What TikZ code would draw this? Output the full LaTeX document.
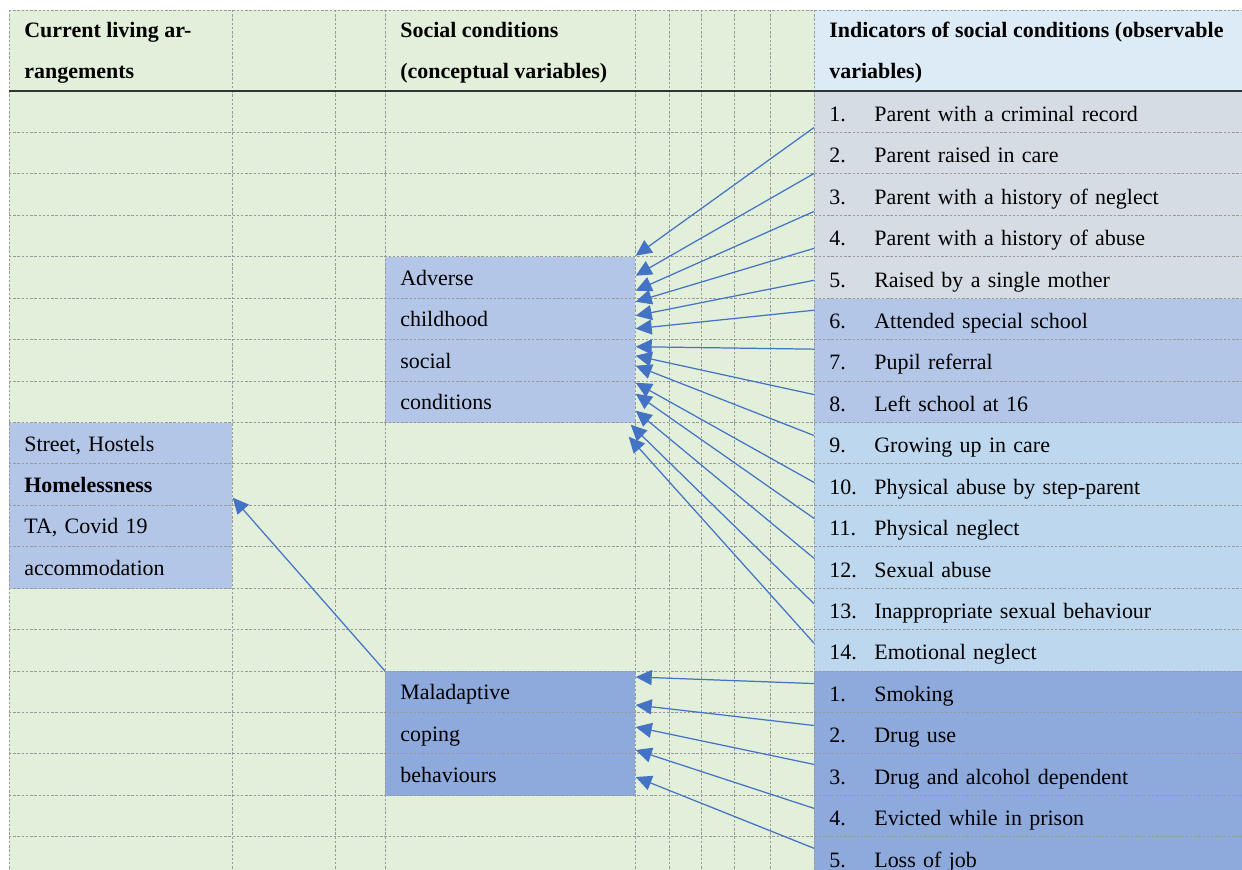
\documentclass[tikz,border=0pt]{standalone}
\usepackage{fontspec}
\setmainfont{Liberation Serif}
\usetikzlibrary{arrows.meta}
\definecolor{tabgreen}{HTML}{E2EFDA}
\definecolor{headblue}{HTML}{DDEBF7}
\definecolor{indgrey}{HTML}{D6DCE4}
\definecolor{indblue}{HTML}{B4C6E7}
\definecolor{indlight}{HTML}{BDD7EE}
\definecolor{inddark}{HTML}{8EA9DB}
\definecolor{arrowblue}{HTML}{4472C4}
\newcommand{\tabfont}{\fontsize{12.5}{23.58}\selectfont}
\tikzstyle{headcell}=[anchor=north west, minimum height=1.62cm,
    inner xsep=0.3cm, inner ysep=0pt, align=left, font=\tabfont\bfseries]
\tikzstyle{cellbox}=[anchor=north west, text width=4.4cm,
    inner xsep=0.3cm, inner ysep=0pt, align=left]
\tikzstyle{indicator}=[anchor=north west, text width=8.4cm, minimum height=0.8286cm,
    inner xsep=0.3cm, inner ysep=0pt, align=left, text height=0.47cm, text depth=0.1cm]
\tikzstyle{gridline}=[gray!80, dash pattern=on 1.4pt off 1pt, line width=0.5pt]
\tikzstyle{conn}=[draw=arrowblue, line width=0.7pt, -{Triangle[length=0.32cm,width=0.3cm]}]

\begin{document}
\begin{tikzpicture}[font=\tabfont]
  \useasboundingbox (0,0) rectangle (24.84,-17.4);
  \clip (0,0) rectangle (24.84,-17.4);
  \fill[tabgreen] (0.18,-0.2) rectangle (25,-17.6);
  \fill[headblue] (16.28,-0.2) rectangle (25,-1.82);

  % header row
  \node[headcell] (hcur) at (0.18,-0.24) {Current living ar-\\rangements};
  \node[headcell] (hsoc) at (7.70,-0.24) {Social conditions\\(conceptual variables)};
  \node[headcell] (hind) at (16.28,-0.24) {Indicators of social conditions (observable\\variables)};

  % conceptual variables
  \node[cellbox, fill=indblue, text width=3.86cm, minimum height=3.314cm] (hl) at (0.18,-8.449)
      {Street, Hostels\\\textbf{Homelessness}\\TA, Covid 19\\accommodation};
  \node[cellbox, fill=indblue, minimum height=3.314cm] (acsc) at (7.70,-5.134)
      {Adverse\\childhood\\social\\conditions};
  \node[cellbox, fill=inddark, minimum height=2.486cm] (mcb) at (7.70,-13.42)
      {Maladaptive\\coping\\behaviours};

  % observable variables
  \foreach \n/\col/\txt in {1/indgrey/Parent with a criminal record,
      2/indgrey/Parent raised in care, 3/indgrey/Parent with a history of neglect,
      4/indgrey/Parent with a history of abuse, 5/indgrey/Raised by a single mother,
      6/indblue/Attended special school, 7/indblue/Pupil referral,
      8/indblue/Left school at 16, 9/indlight/Growing up in care,
      10/indlight/Physical abuse by step-parent, 11/indlight/Physical neglect,
      12/indlight/Sexual abuse, 13/indlight/Inappropriate sexual behaviour,
      14/indlight/Emotional neglect}
    \node[indicator, fill=\col] (i\n) at (16.28,{-1.82-0.8286*(\n-1)}) {\makebox[0.9cm][l]{\n.}\txt};
  \foreach \n/\txt in {1/Smoking, 2/Drug use, 3/Drug and alcohol dependent,
      4/Evicted while in prison, 5/Loss of job}
    \node[indicator, fill=inddark] (m\n) at (16.28,{-13.42-0.8286*(\n-1)}) {\makebox[0.9cm][l]{\n.}\txt};

  % dashed table rules
  \foreach \x in {0.18,4.64,6.70,7.70,12.70,13.38,14.02,14.68,15.40,16.28}
    \draw[gridline] (\x,-0.2) -- (\x,-17.6);
  \draw[gridline] (0.18,-0.2) -- (25,-0.2);
  \foreach \k in {1,...,19}
    \draw[gridline] (0.18,{-1.82-0.8286*\k}) -- (25,{-1.82-0.8286*\k});
  \draw[black!80, line width=0.9pt] (0.18,-1.82) -- (25,-1.82);

  % arrows
  \foreach \n/\s/\dx/\dy in {1/-0.31/0/0.02, 2/-0.40/0/-0.38, 3/-0.33/0/-0.68,
      4/-0.24/0/-0.90, 5/-0.05/0/-1.18, 6/0.18/0/-1.44, 7/0.23/0/-1.80,
      8/0.15/0/-1.98, 9/0.16/0/-2.18, 10/0.05/0/-2.52, 11/0.16/0/-2.74,
      12/0.19/0/-3.08, 13/0.11/-0.1/-3.36, 14/0.15/-0.14/-3.60}
    \draw[conn] ([yshift=\s cm]i\n.west) -- ([xshift=\dx cm, yshift=\dy cm]acsc.north east);
  \foreach \n/\s/\dy in {1/0.17/-0.12, 2/0.16/-0.68, 3/0.21/-1.12, 4/0.16/-1.58, 5/0.19/-2.12}
    \draw[conn] ([yshift=\s cm]m\n.west) -- ([yshift=\dy cm]mcb.north east);
  \draw[conn] (mcb.north west) -- ([yshift=0.16cm]hl.east);
\end{tikzpicture}
\end{document}
